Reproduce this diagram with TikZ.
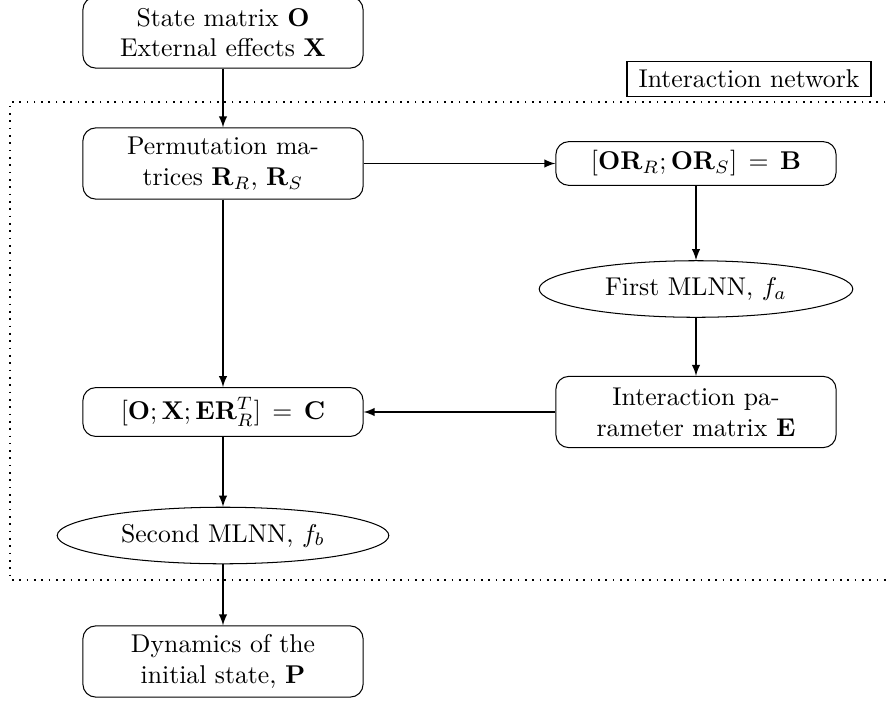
\documentclass[tikz,border=0pt]{standalone}
\usetikzlibrary{shapes.geometric,arrows}
\begin{document}
\begin{tikzpicture}[x=0.389pt,y=-0.389pt,
  box/.style={draw,rounded corners=5pt,align=center,minimum width=109pt,inner sep=3.33pt},
  twoline/.style={box,minimum height=27.7pt},
  oneline/.style={box,minimum height=17pt},
  oval/.style={draw,ellipse,align=center,minimum height=22pt,inner sep=1pt},
  conn/.style={-latex,line width=0.5pt},
  region/.style={line width=0.65pt,dash pattern=on 0.65pt off 2.2pt},
  tag/.style={draw,line width=0.5pt,inner sep=3.33pt,minimum width=95pt,minimum height=13pt}]
\useasboundingbox (0,0) rectangle (891,700);
\draw[region] (900,102) -- (10,102) -- (10,580) -- (900,580);
\node[tag] (lab) at (749,79) {Interaction network};
\node[twoline] (top) at (223,32.5) {State matrix $\mathbf{O}$\\External effects $\mathbf{X}$};
\node[twoline] (perm) at (223,163.5) {Permutation ma-\\trices $\mathbf{R}_R$, $\mathbf{R}_S$};
\node[oneline] (B) at (696,163.5) {$[\mathbf{O}\mathbf{R}_R;\mathbf{O}\mathbf{R}_S]\,=\,\mathbf{B}$};
\node[oval,minimum width=122pt] (fa) at (696,289) {First MLNN, $f_a$};
\node[twoline] (E) at (696,412) {Interaction pa-\\rameter matrix $\mathbf{E}$};
\node[oneline,minimum height=19pt] (C) at (223,412) {$[\mathbf{O};\mathbf{X};\mathbf{E}\mathbf{R}_R^T]\,=\,\mathbf{C}$};
\node[oval,minimum width=129pt] (fb) at (223,535.5) {Second MLNN, $f_b$};
\node[twoline] (P) at (223,661.5) {Dynamics of the\\initial state, $\mathbf{P}$};
\draw[conn] (top) -- (perm);
\draw[conn] (perm) -- (B);
\draw[conn] (B) -- (fa);
\draw[conn] (fa) -- (E);
\draw[conn] (E) -- (C);
\draw[conn] (perm) -- (C);
\draw[conn] (C) -- (fb);
\draw[conn] (fb) -- (P);
\end{tikzpicture}
\end{document}
